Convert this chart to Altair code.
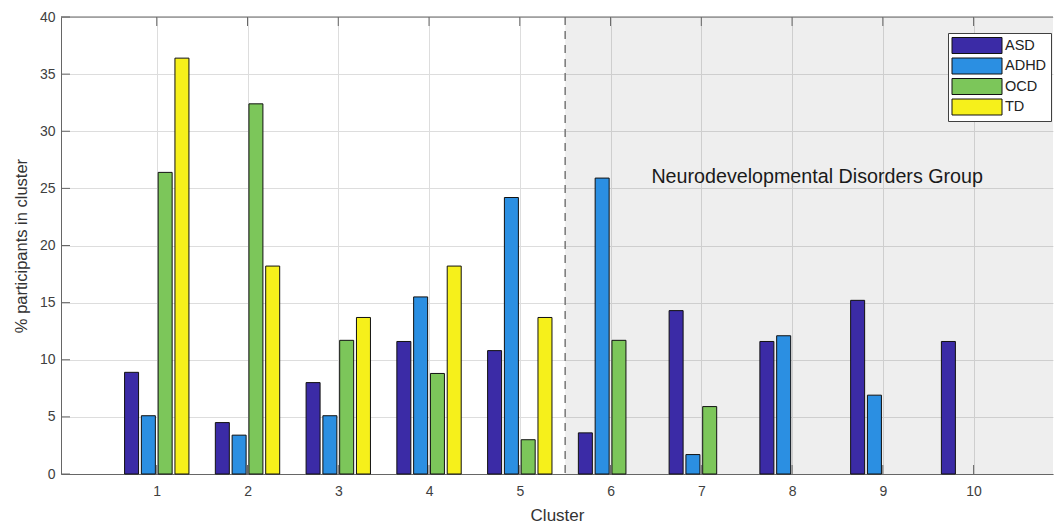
import altair as alt
import pandas as pd

clusters = [1, 2, 3, 4, 5, 6, 7, 8, 9, 10]
groups = ["ASD", "ADHD", "OCD", "TD"]
asd = [8.9, 4.5, 8.0, 11.6, 10.8, 3.6, 14.3, 11.6, 15.2, 11.6]
adhd = [5.1, 3.4, 5.1, 15.5, 24.2, 25.9, 1.7, 12.1, 6.9, 0.0]
ocd = [26.4, 32.4, 11.7, 8.8, 3.0, 11.7, 5.9, 0.0, 0.0, 0.0]
td = [36.4, 18.2, 13.7, 18.2, 13.7, 0.0, 0.0, 0.0, 0.0, 0.0]
colors = ["#3b2ba6", "#2b8fe2", "#7cc65a", "#f6f01b"]
y_ticks = [0, 5, 10, 15, 20, 25, 30, 35, 40]

nd_start = 5.5
nd_end = 11.0
nd_label = "Neurodevelopmental Disorders Group"
nd_label_x = 6.45
nd_label_y = 26.0
y_max = 40

series = [asd, adhd, ocd, td]
rows = []
for gi, (g, vals) in enumerate(zip(groups, series)):
    for c, v in zip(clusters, vals):
        if v > 0:
            rows.append({"cluster": c, "group": g, "gidx": gi, "value": v})
df = pd.DataFrame(rows)

FONT = "Liberation Sans"
FRAME = "#666666"
W, H = 992, 457
TICK = 9
x_scale = alt.Scale(domain=[0, 10.82], nice=False, zero=False)
y_scale = alt.Scale(domain=[0, y_max], nice=False)

shade = alt.Chart(pd.DataFrame({"x": [nd_start], "x2": [nd_end]})).mark_rect(
    color="#000000", opacity=0.065, clip=True
).encode(
    x=alt.X("x:Q", scale=x_scale),
    x2="x2:Q",
    y=alt.value(0),
    y2=alt.value(H),
)

divider = alt.Chart(pd.DataFrame({"x": [nd_start]})).mark_rule(
    color="#777777", strokeWidth=1.5, strokeDash=[8, 6]
).encode(x=alt.X("x:Q", scale=x_scale))

top_frame = alt.Chart(pd.DataFrame({"y": [y_max]})).mark_rule(
    color=FRAME, strokeWidth=1
).encode(y=alt.Y("y:Q", scale=y_scale))

xdf = pd.DataFrame({"x": clusters})
xticks_bottom = alt.Chart(xdf).mark_rule(color=FRAME, strokeWidth=1).encode(
    x=alt.X("x:Q", scale=x_scale), y=alt.value(H), y2=alt.value(H - TICK)
)
xticks_top = alt.Chart(xdf).mark_rule(color=FRAME, strokeWidth=1).encode(
    x=alt.X("x:Q", scale=x_scale), y=alt.value(0), y2=alt.value(TICK)
)
yticks_left = alt.Chart(pd.DataFrame({"y": y_ticks})).mark_rule(color=FRAME, strokeWidth=1).encode(
    y=alt.Y("y:Q", scale=y_scale), x=alt.value(0), x2=alt.value(TICK)
)

bars = alt.Chart(df).transform_calculate(
    xpos="datum.cluster + (datum.gidx - 1.5) * 0.185"
).mark_bar(size=14, stroke="#111111", strokeWidth=1, opacity=1).encode(
    x=alt.X(
        "xpos:Q",
        scale=x_scale,
        axis=alt.Axis(
            title="Cluster",
            values=clusters,
            format="d",
            grid=True,
            ticks=False,
            domain=True,
            labelPadding=10,
            titlePadding=9,
        ),
    ),
    y=alt.Y(
        "value:Q",
        scale=y_scale,
        axis=alt.Axis(
            title="% participants in cluster",
            values=y_ticks,
            grid=True,
            ticks=False,
            domain=True,
            labelPadding=6,
            titlePadding=10,
        ),
    ),
    color=alt.Color(
        "group:N",
        scale=alt.Scale(domain=groups, range=colors),
        legend=alt.Legend(
            title=None,
            orient="none",
            legendX=887,
            legendY=16,
            symbolType="M-3.125,-1H3.125V1H-3.125Z",
            symbolSize=256,
            symbolOffset=16.5,
            symbolStrokeColor="#111111",
            symbolStrokeWidth=1,
            symbolOpacity=1,
            labelFont=FONT,
            labelFontSize=14.5,
            labelColor="#222222",
            labelOffset=19.5,
            rowPadding=-0.5,
            padding=4,
            fillColor="white",
            strokeColor="#404040",
        ),
    ),
)

label = alt.Chart(pd.DataFrame({"x": [nd_label_x], "y": [nd_label_y], "t": [nd_label]})).mark_text(
    align="left", baseline="middle", font=FONT, fontSize=19.7, color="#1a1a1a"
).encode(x=alt.X("x:Q", scale=x_scale), y=alt.Y("y:Q", scale=y_scale), text="t:N")

chart = alt.layer(
    shade, divider, top_frame, xticks_top, yticks_left, bars, xticks_bottom, label
).properties(
    width=W,
    height=H,
    autosize=alt.AutoSizeParams(type="none"),
    padding={"left": 53, "top": 9, "right": 1, "bottom": 52},
).configure_view(
    stroke=None
).configure_axis(
    labelFont=FONT,
    labelFontSize=14,
    labelColor="#404040",
    titleFont=FONT,
    titleFontWeight="normal",
    titleColor="#333333",
    gridColor="#dddddd",
    gridWidth=1,
    domainColor=FRAME,
    domainWidth=1,
).configure_axisX(titleFontSize=17).configure_axisY(titleFontSize=16.5)

chart.save("out.html", embed_options={"renderer": "svg", "actions": False})
